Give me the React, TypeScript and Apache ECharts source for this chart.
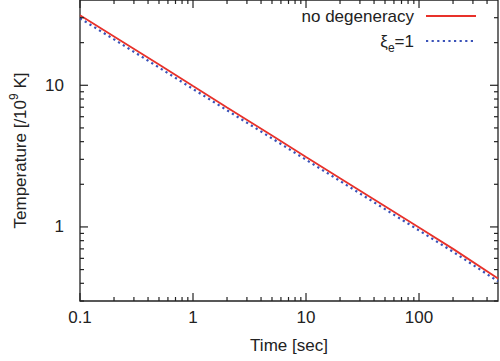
import React, { useEffect, useRef } from "react";
import * as echarts from "echarts";

const timeSec = [0.1, 0.2, 0.5, 1, 2, 5, 10, 20, 50, 100, 200, 500];
const tempNoDegeneracy = [31.2, 22.1, 14.0, 9.87, 6.98, 4.42, 3.12, 2.21, 1.4, 0.99, 0.7, 0.432];
const tempXi1 = [29.7, 21.1, 13.35, 9.42, 6.66, 4.22, 2.98, 2.11, 1.335, 0.945, 0.668, 0.413];

const X_MIN = 0.1;
const X_MAX = 500;
const Y_MIN = 0.3;
const Y_MAX = 40;

const xMajorTicks = [0.1, 1, 10, 100];
const xMinorTicks = [0.2, 0.3, 0.4, 0.5, 0.6, 0.7, 0.8, 0.9, 2, 3, 4, 5, 6, 7, 8, 9, 20, 30, 40, 50, 60, 70, 80, 90, 200, 300, 400];
const yMajorTicks = [1, 10];
const yMinorTicks = [0.3, 0.4, 0.5, 0.6, 0.7, 0.8, 0.9, 2, 3, 4, 5, 6, 7, 8, 9, 20, 30];

const FONT = "'Liberation Sans', Arial, sans-serif";
const INK = "#222";

export default function App() {
  const ref = useRef<HTMLDivElement>(null);
  useEffect(() => {
    if (!ref.current) return;
    const chart = echarts.init(ref.current, null, { renderer: "svg" });

    const tickData: number[][] = [
      ...xMajorTicks.map((v) => [v, Y_MIN, 0]),
      ...xMinorTicks.map((v) => [v, Y_MIN, 1]),
      ...yMajorTicks.map((v) => [X_MIN, v, 2]),
      ...yMinorTicks.map((v) => [X_MIN, v, 3]),
    ];

    const tickStyle = { stroke: INK, lineWidth: 1.2 };

    chart.setOption({
      animation: false,
      grid: {
        left: 80,
        right: 2,
        top: 0,
        bottom: 60,
        show: true,
        borderColor: INK,
        borderWidth: 1.3,
      },
      legend: {
        orient: "vertical",
        right: 18,
        top: 1,
        align: "right",
        itemWidth: 50,
        itemHeight: 14,
        itemGap: 5,
        itemStyle: { opacity: 0 },
        data: ["no degeneracy", "ξe=1"],
        formatter: (name: string) =>
          name === "ξe=1" ? "{n|ξ}{s|e}{m|=1}" : "{m|" + name + "}",
        textStyle: {
          fontSize: 17,
          fontFamily: FONT,
          color: INK,
          lineHeight: 20,
          rich: {
            n: { fontSize: 17, fontFamily: FONT, color: INK },
            s: { fontSize: 12, fontFamily: FONT, color: INK, padding: [14, 0, 0, 0] },
            m: { fontSize: 17, fontFamily: FONT, color: INK, padding: [0, 7, 0, 0] },
          },
        },
      },
      xAxis: {
        type: "log",
        logBase: 10,
        min: X_MIN,
        max: X_MAX,
        name: "Time [sec]",
        nameLocation: "middle",
        nameGap: 36,
        nameTextStyle: { fontSize: 17, fontFamily: FONT, color: INK },
        axisLine: { show: false },
        axisTick: { show: false },
        splitLine: { show: false },
        minorTick: { show: false },
        axisLabel: {
          fontSize: 17,
          fontFamily: FONT,
          color: INK,
          margin: 8,
          showMaxLabel: false,
        },
      },
      yAxis: {
        type: "log",
        logBase: 10,
        min: Y_MIN,
        max: Y_MAX,
        name: "{n|Temperature [/10}{p|9}{n| K]}",
        nameLocation: "middle",
        nameRotate: 90,
        nameGap: 48,
        nameTextStyle: {
          fontSize: 17,
          fontFamily: FONT,
          color: INK,
          rich: {
            n: { fontSize: 17, fontFamily: FONT, color: INK },
            p: { fontSize: 12, fontFamily: FONT, color: INK, padding: [0, 0, 12, 0] },
          },
        },
        axisLine: { show: false },
        axisTick: { show: false },
        splitLine: { show: false },
        minorTick: { show: false },
        axisLabel: {
          fontSize: 17,
          fontFamily: FONT,
          color: INK,
          margin: 16,
          showMinLabel: false,
          showMaxLabel: false,
        },
      },
      series: [
        {
          name: "no degeneracy",
          type: "line",
          data: timeSec.map((t, i) => [t, tempNoDegeneracy[i]]),
          symbol: "none",
          lineStyle: { color: "#e8312a", width: 1.8 },
          itemStyle: { color: "#e8312a" },
          z: 3,
        },
        {
          name: "ξe=1",
          type: "line",
          data: timeSec.map((t, i) => [t, tempXi1[i]]),
          symbol: "none",
          lineStyle: { color: "#3a52b8", width: 2.2, type: [2.2, 3.4] },
          itemStyle: { color: "#3a52b8" },
          z: 2,
        },
        {
          name: "ticks",
          type: "custom",
          data: tickData,
          silent: true,
          clip: false,
          z: 4,
          renderItem: (_params: any, api: any) => {
            const kind = api.value(2);
            const v0 = api.value(0);
            const v1 = api.value(1);
            if (kind === 0 || kind === 1) {
              const len = kind === 0 ? 8 : 4;
              const b = api.coord([v0, Y_MIN]);
              const t = api.coord([v0, Y_MAX]);
              return {
                type: "group",
                children: [
                  { type: "line", shape: { x1: b[0], y1: b[1], x2: b[0], y2: b[1] - len }, style: tickStyle },
                  { type: "line", shape: { x1: t[0], y1: t[1], x2: t[0], y2: t[1] + len }, style: tickStyle },
                ],
              };
            }
            const len = kind === 2 ? 8 : 4;
            const l = api.coord([X_MIN, v1]);
            const r = api.coord([X_MAX, v1]);
            return {
              type: "group",
              children: [
                { type: "line", shape: { x1: l[0], y1: l[1], x2: l[0] + len, y2: l[1] }, style: tickStyle },
                { type: "line", shape: { x1: r[0], y1: r[1], x2: r[0] - len, y2: r[1] }, style: tickStyle },
              ],
            };
          },
        },
      ],
    });
    return () => chart.dispose();
  }, []);
  return <div ref={ref} style={{ width: 500, height: 361, position: "absolute", left: 0, top: 0 }} />;
}
